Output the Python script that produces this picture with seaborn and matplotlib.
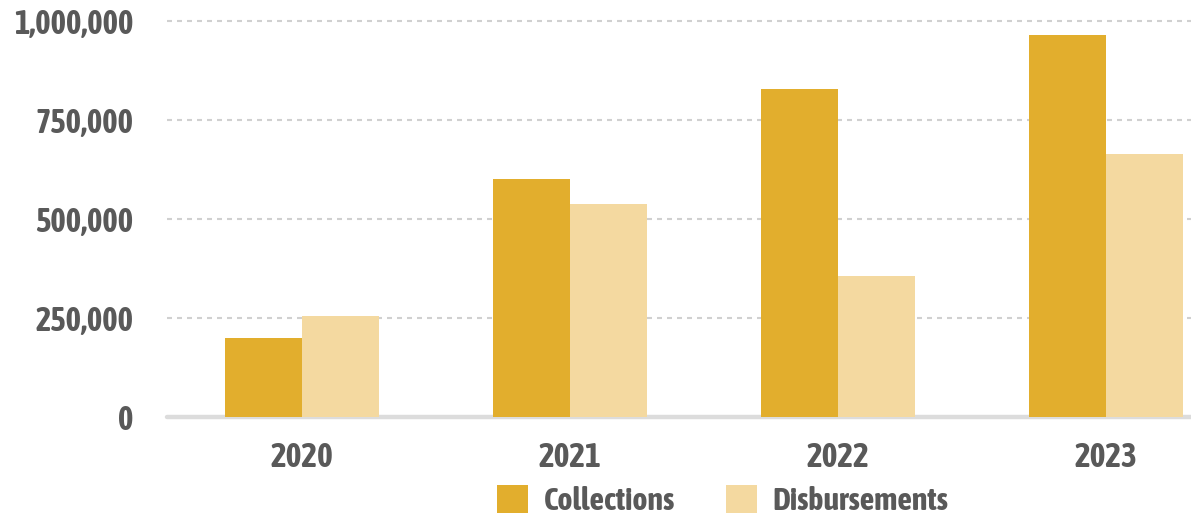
import matplotlib
matplotlib.use("Agg")
import matplotlib.pyplot as plt
import seaborn as sns
import pandas as pd
from matplotlib.ticker import FuncFormatter
from matplotlib.patches import Patch
from matplotlib import font_manager

years = ["2020", "2021", "2022", "2023"]
collections = [200000, 601000, 828000, 964000]
disbursements = [256000, 539000, 357000, 665000]
series_names = ["Collections", "Disbursements"]
colors = ["#E2AE2D", "#F4D9A0"]
yticks = [0, 250000, 500000, 750000, 1000000]

df = pd.DataFrame({
    "year": years * 2,
    "value": collections + disbursements,
    "series": [series_names[0]] * 4 + [series_names[1]] * 4,
})

sns.set_theme(style="white")

# pick a condensed bold font if available
fam = None
stretch = "normal"
for f in font_manager.fontManager.ttflist:
    if ("Narrow" in f.name or "Condensed" in f.name) and f.weight in (700, "bold"):
        fam = f.name
        break
if fam is None:
    for f in font_manager.fontManager.ttflist:
        if f.name == "DejaVu Sans" and f.stretch in ("condensed", "semi-condensed", 87, 75) and f.weight in (700, "bold"):
            fam = "DejaVu Sans"
            stretch = "condensed"
            break
if fam is None:
    fam = "Roboto"
plt.rcParams["font.family"] = [fam, "DejaVu Sans"]
plt.rcParams["font.weight"] = "bold"
plt.rcParams["font.stretch"] = stretch

txt = "#595959"
fig = plt.figure(figsize=(11.91, 5.18), dpi=100)
ax = fig.add_axes([167/1191, (518-417)/518, (1191-167)/1191, 417/518])

sns.barplot(data=df, x="year", y="value", hue="series", palette=colors,
            width=0.575, gap=0, saturation=1, ax=ax, legend=False, zorder=2,
            linewidth=0, edgecolor="none")

ax.set_ylim(0, 1000000 * 417 / 396)
ax.set_xlim(-0.504, 3.317)
ax.set_yticks(yticks)
ax.yaxis.set_major_formatter(FuncFormatter(lambda v, p: f"{int(v):,}"))
ax.set_xlabel("")
ax.set_ylabel("")
for s in ax.spines.values():
    s.set_visible(False)
ax.grid(axis="y", color="#d0d0d0", linewidth=1.5, linestyle=(0, (2.4, 2.4)), zorder=0)
ax.set_axisbelow(True)
ax.axhline(0, color="#dcdcdc", linewidth=3.2, zorder=1, clip_on=False)
ax.tick_params(axis="y", length=0, pad=24, labelsize=23.5, labelcolor=txt)
ax.tick_params(axis="x", length=0, pad=17, labelsize=24, labelcolor=txt)
for lab in ax.get_xticklabels() + ax.get_yticklabels():
    lab.set_fontweight("bold")

handles = [Patch(facecolor=c, edgecolor="none") for c in colors]
fig.legend(handles, series_names, loc="center", bbox_to_anchor=(0.607, 0.033),
           ncol=2, frameon=False, handlelength=0.95, handleheight=0.95,
           handletextpad=0.5, columnspacing=1.6, labelcolor=txt,
           prop={"weight": "bold", "size": 23})

fig.savefig("out.png", dpi=100)
